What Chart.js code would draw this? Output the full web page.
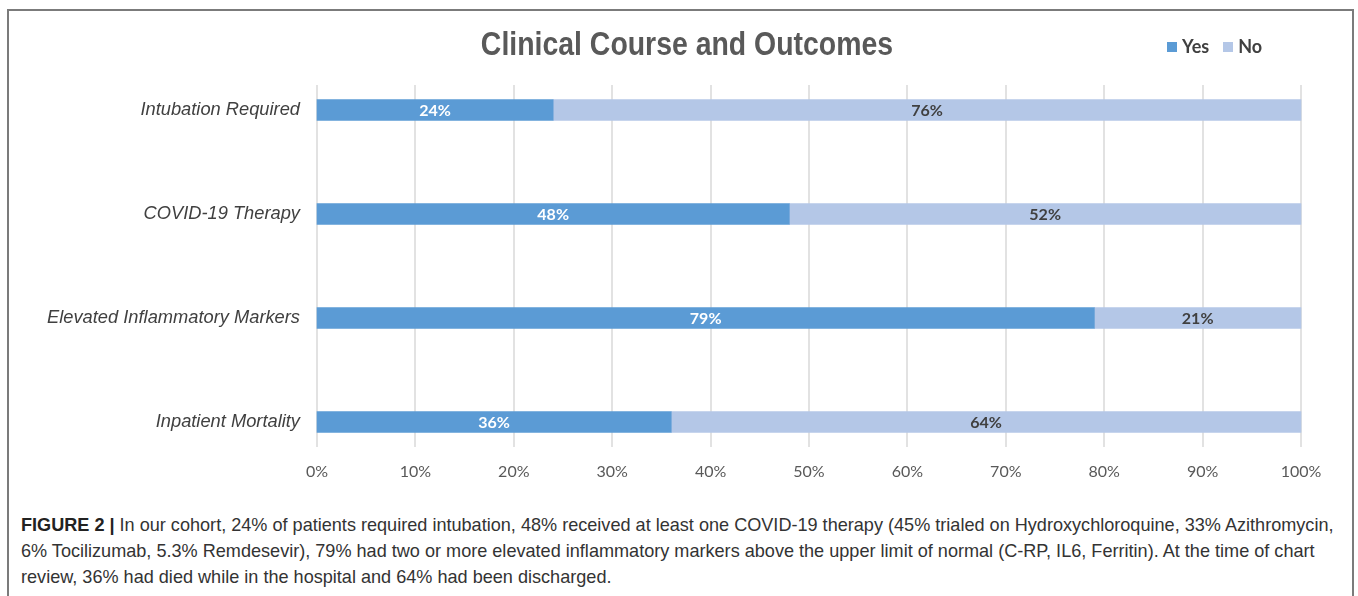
<!DOCTYPE html>
<html lang="en">
<head>
<meta charset="UTF-8">
<meta name="viewport" content="width=device-width, initial-scale=1.0">
<title>Clinical Course and Outcomes</title>
<script src="https://cdn.jsdelivr.net/npm/chart.js"></script>
<style>
  body { margin: 0; background: #fff; }
  .figure { position: relative; width: 1358px; height: 596px; overflow: hidden; }
  .frame {
    position: absolute; left: 7px; top: 9px; width: 1343px; height: 620px;
    border: 2px solid #7b7b7b; border-bottom: none;
  }
  #chart { position: absolute; left: 0; top: 0; }
  .title {
    position: absolute; left: 687px; top: 24px; white-space: nowrap;
    font: bold 34px 'Liberation Sans', Arial, sans-serif; color: #595959;
    transform: translateX(-50%) scaleX(0.836);
  }
  .legend {
    position: absolute; left: 1167px; top: 35px; white-space: nowrap;
    font: bold 18px Lato, sans-serif; color: #404040;
  }
  .legend span.box { display: inline-block; width: 10px; height: 10px; margin-right: 5px; vertical-align: 1px; }
  .legend span.item { margin-right: 14px; }
  .caption {
    position: absolute; left: 21px; top: 512px; white-space: nowrap;
    font: 18.1px 'Liberation Sans', Arial, sans-serif; line-height: 26px; color: #333;
  }
  .caption b { color: #222; }
</style>
</head>
<body>
<div class="figure">
  <div class="frame"></div>
  <canvas id="chart" width="1358" height="500"></canvas>
  <div class="title">Clinical Course and Outcomes</div>
  <div class="legend" id="legend"></div>
  <div class="caption">
    <b>FIGURE 2 |</b> In our cohort, 24% of patients required intubation, 48% received at least one COVID-19 therapy (45% trialed on Hydroxychloroquine, 33% Azithromycin,<br>
    6% Tocilizumab, 5.3% Remdesevir), 79% had two or more elevated inflammatory markers above the upper limit of normal (C-RP, IL6, Ferritin). At the time of chart<br>
    review, 36% had died while in the hospital and 64% had been discharged.
  </div>
</div>
<script>
  const categories = ['Intubation Required', 'COVID-19 Therapy', 'Elevated Inflammatory Markers', 'Inpatient Mortality'];
  const yesValues = [24, 48, 79, 36];
  const noValues = [76, 52, 21, 64];
  const seriesNames = ['Yes', 'No'];
  const seriesColors = ['#5b9bd5', '#b4c7e7'];
  const labelColors = ['#ffffff', '#404040'];
  const xMin = 0, xMax = 100, xStep = 10;

  // vertical grid lines run a bit past the outer bars, like the original
  const gridPlugin = {
    id: 'gridLines',
    beforeDatasetsDraw(chart) {
      const { ctx, chartArea } = chart;
      const xs = chart.scales.x;
      ctx.save();
      ctx.strokeStyle = '#d9d9d9';
      ctx.lineWidth = 1.5;
      xs.ticks.forEach(t => {
        const px = Math.round(xs.getPixelForValue(t.value));
        ctx.beginPath();
        ctx.moveTo(px, chartArea.top - 25);
        ctx.lineTo(px, chartArea.bottom + 25);
        ctx.stroke();
      });
      ctx.restore();
    }
  };

  // percent labels in the middle of each segment
  const valueLabels = {
    id: 'valueLabels',
    afterDatasetsDraw(chart) {
      const ctx = chart.ctx;
      ctx.save();
      ctx.font = 'bold 16px Lato, sans-serif';
      ctx.textAlign = 'center';
      ctx.textBaseline = 'middle';
      chart.data.datasets.forEach((ds, i) => {
        ctx.fillStyle = labelColors[i];
        chart.getDatasetMeta(i).data.forEach((bar, j) => {
          const p = bar.getCenterPoint();
          ctx.fillText(ds.data[j] + '%', p.x, p.y + 1);
        });
      });
      ctx.restore();
    }
  };

  const chart = new Chart(document.getElementById('chart'), {
    type: 'bar',
    data: {
      labels: categories,
      datasets: [
        { label: seriesNames[0], data: yesValues, backgroundColor: seriesColors[0] },
        { label: seriesNames[1], data: noValues, backgroundColor: seriesColors[1] }
      ]
    },
    options: {
      indexAxis: 'y',
      responsive: false,
      animation: false,
      layout: { padding: { top: 110, right: 57, left: 0, bottom: 0 } },
      datasets: { bar: { barThickness: 21, borderWidth: 0, clip: false } },
      plugins: { legend: { display: false }, tooltip: { enabled: false } },
      scales: {
        x: {
          stacked: true, min: xMin, max: xMax,
          grid: { display: false, drawTicks: false },
          border: { display: false },
          ticks: {
            stepSize: xStep, padding: 40, color: '#595959', maxRotation: 0,
            font: { family: 'Lato', size: 16 },
            callback: v => v + '%'
          },
          afterFit(s) { s.height = 78; s.paddingLeft = 0; s.paddingRight = 0; }
        },
        y: {
          stacked: true, offset: false,
          grid: { display: false, drawTicks: false },
          border: { display: false },
          ticks: {
            padding: 17, color: '#404040',
            font: { family: "'Liberation Sans', Arial", size: 18.3, style: 'italic' }
          },
          afterFit(s) { s.width = 317; }
        }
      }
    },
    plugins: [gridPlugin, valueLabels]
  });

  // legend built from the series lists
  const legend = document.getElementById('legend');
  seriesNames.forEach((name, i) => {
    const item = document.createElement('span');
    item.className = 'item';
    item.innerHTML = '<span class="box" style="background:' + seriesColors[i] + '"></span>' + name;
    legend.appendChild(item);
  });
</script>
</body>
</html>
